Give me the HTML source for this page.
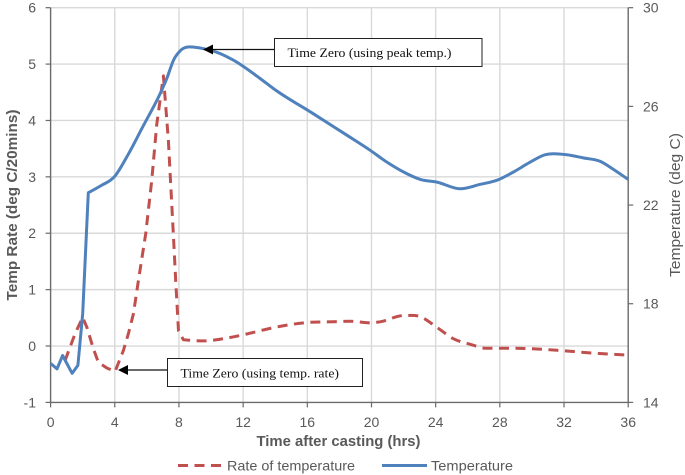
<!DOCTYPE html>
<html>
<head>
<meta charset="utf-8">
<style>
html,body{margin:0;padding:0;background:#fff;}
svg{display:block;}
text{font-family:"Liberation Sans",sans-serif;}
</style>
</head>
<body>
<svg id="chart" xmlns="http://www.w3.org/2000/svg" width="685" height="475" viewBox="0 0 685 475">
  <g id="grid"></g>
  <g id="axes"></g>
  <g id="series"></g>
  <text x="338.5" y="446" text-anchor="middle" font-size="14.5" font-weight="bold" fill="#595959" textLength="164" lengthAdjust="spacingAndGlyphs">Time after casting (hrs)</text>
  <text transform="translate(17,205) rotate(-90)" text-anchor="middle" font-size="14.5" font-weight="bold" fill="#595959" textLength="191" lengthAdjust="spacingAndGlyphs">Temp Rate (deg C/20mins)</text>
  <text transform="translate(680,205) rotate(-90)" text-anchor="middle" font-size="14.5" fill="#595959" textLength="144" lengthAdjust="spacingAndGlyphs">Temperature (deg C)</text>

  <g>
    <rect x="274.5" y="38.5" width="207.5" height="28" fill="#fff" stroke="#222" stroke-width="1"/>
    <text x="287.5" y="57" font-size="13" fill="#111" textLength="164" lengthAdjust="spacingAndGlyphs" style="font-family:'Liberation Serif',serif">Time Zero (using peak temp.)</text>
    <line x1="274" y1="49.5" x2="210" y2="49.5" stroke="#111" stroke-width="1.2"/>
    <polygon points="203,49.5 213,44.5 213,54.5" fill="#000"/>
  </g>
  <g>
    <rect x="167.5" y="358.5" width="195" height="28" fill="#fff" stroke="#222" stroke-width="1"/>
    <text x="180.5" y="377.5" font-size="13" fill="#111" textLength="158.5" lengthAdjust="spacingAndGlyphs" style="font-family:'Liberation Serif',serif">Time Zero (using temp. rate)</text>
    <line x1="167" y1="370" x2="125" y2="370" stroke="#111" stroke-width="1.2"/>
    <polygon points="118,370 128,365 128,375" fill="#000"/>
  </g>

  <g>
    <line x1="178" y1="465.5" x2="223" y2="465.5" stroke="#c0504d" stroke-width="3" stroke-dasharray="10 6.5"/>
    <text x="227" y="470.5" font-size="14" fill="#595959" textLength="128" lengthAdjust="spacingAndGlyphs">Rate of temperature</text>
    <line x1="382" y1="465.5" x2="427" y2="465.5" stroke="#4f81bd" stroke-width="3"/>
    <text x="431" y="470.5" font-size="14" fill="#595959" textLength="82" lengthAdjust="spacingAndGlyphs">Temperature</text>
  </g>
</svg>
<script>
const xTicks = [0, 4, 8, 12, 16, 20, 24, 28, 32, 36];
const leftTicks = [-1, 0, 1, 2, 3, 4, 5, 6];
const rightTicks = [14, 18, 22, 26, 30];

const tempHours = [0, 0.4, 0.75, 1.34, 1.7, 2.0, 2.35, 3.09, 4.02, 4.75, 5.79, 6.83, 7.24, 7.66, 8.07, 8.65, 9.53, 10.57, 11.4, 13.06, 13.89, 16.38, 18.47, 19.92, 20.96, 22, 23.04, 24.08, 25.53, 26.78, 27.92, 28.85, 29.9, 30.83, 31.35, 32.18, 33.2, 34.26, 35.09, 36];
const tempValues = [15.58, 15.36, 15.9, 15.18, 15.5, 17.6, 22.5, 22.77, 23.18, 23.95, 25.23, 26.52, 27.13, 27.87, 28.25, 28.41, 28.34, 28.14, 27.87, 27.13, 26.72, 25.7, 24.83, 24.22, 23.74, 23.34, 23.04, 22.93, 22.66, 22.84, 23.03, 23.34, 23.74, 24.04, 24.08, 24.04, 23.91, 23.77, 23.44, 23.04];

const rateHours = [0.9, 1.53, 2.0, 2.26, 2.67, 2.98, 3.5, 4.02, 4.54, 4.85, 5.16, 5.47, 5.93, 6.3, 6.62, 7.03, 7.34, 7.66, 7.8, 7.97, 8.28, 9.53, 10.77, 12.02, 13.48, 14.93, 16.18, 17.63, 18.67, 19.92, 20.54, 22, 23.04, 24.08, 25.1, 26.15, 27.2, 29, 31.76, 34, 36];
const rateValues = [-0.26, 0.22, 0.51, 0.33, -0.05, -0.29, -0.39, -0.45, -0.08, 0.22, 0.57, 1.16, 1.99, 2.93, 3.94, 4.79, 3.64, 1.93, 1.16, 0.27, 0.11, 0.09, 0.13, 0.2, 0.3, 0.38, 0.42, 0.43, 0.44, 0.41, 0.43, 0.54, 0.52, 0.33, 0.13, 0.03, -0.04, -0.04, -0.08, -0.13, -0.16];

const NS = 'http://www.w3.org/2000/svg';
const L = 50.6, R = 628.2, T = 7.7, B = 402.4;
const xScale = h => L + (h / 36) * (R - L);
const yLeft = v => B - ((v + 1) / 7) * (B - T);
const yRight = v => B - ((v - 14) / 16) * (B - T);

const make = (parent, tag, attrs, txt) => {
  const el = document.createElementNS(NS, tag);
  for (const k in attrs) el.setAttribute(k, attrs[k]);
  if (txt !== undefined) el.textContent = txt;
  parent.appendChild(el);
  return el;
};

// Straight segments before sharpUntil (hours), monotone cubic smoothing after it.
const buildPath = (hours, vals, yFn, sharpUntil) => {
  const px = hours.map(xScale);
  const py = vals.map(yFn);
  const n = px.length;
  const slope = [];
  for (let i = 0; i < n - 1; i++) slope.push((py[i + 1] - py[i]) / (px[i + 1] - px[i]));
  const tan = px.map((_, i) => {
    if (i === 0) return slope[0];
    if (i === n - 1) return slope[n - 2];
    if (hours[i] <= sharpUntil) return slope[i];
    if (slope[i - 1] * slope[i] <= 0) return 0;
    const w0 = px[i] - px[i - 1], w1 = px[i + 1] - px[i];
    return (slope[i - 1] * w1 + slope[i] * w0) / (w0 + w1);
  });
  let d = 'M' + px[0].toFixed(1) + ' ' + py[0].toFixed(1);
  for (let i = 0; i < n - 1; i++) {
    if (hours[i] < sharpUntil) {
      d += ' L' + px[i + 1].toFixed(1) + ' ' + py[i + 1].toFixed(1);
    } else {
      const h = (px[i + 1] - px[i]) / 3;
      d += ' C' + (px[i] + h).toFixed(1) + ' ' + (py[i] + tan[i] * h).toFixed(1) + ' ' + (px[i + 1] - h).toFixed(1) + ' ' + (py[i + 1] - tan[i + 1] * h).toFixed(1) + ' ' + px[i + 1].toFixed(1) + ' ' + py[i + 1].toFixed(1);
    }
  }
  return d;
};

const grid = document.getElementById('grid');
const axes = document.getElementById('axes');
const series = document.getElementById('series');
const GRID = '#d9d9d9', AXIS = '#6a6a6a', LABEL = '#595959';

xTicks.forEach(t => {
  if (t !== 0 && t !== 36) {
    const g = make(grid, 'line', {x1: xScale(t), x2: xScale(t), y1: T, y2: B, stroke: GRID, 'stroke-width': 1.4});
    
    
  }
  const tick = make(axes, 'line', {x1: xScale(t), x2: xScale(t), y1: B, y2: B + 5, stroke: AXIS, 'stroke-width': 1.2});
  
  
  const lab = make(axes, 'text', {x: xScale(t), y: 427, 'text-anchor': 'middle', 'font-size': 14, fill: LABEL}, String(t));
  
  
});

leftTicks.forEach(v => {
  if (v !== -1) {
    const g = make(grid, 'line', {x1: L, x2: R, y1: yLeft(v), y2: yLeft(v), stroke: GRID, 'stroke-width': 1.4});
    
    
  }
  const tick = make(axes, 'line', {x1: L - 5, x2: L, y1: yLeft(v), y2: yLeft(v), stroke: AXIS, 'stroke-width': 1.2});
  
  
  const lab = make(axes, 'text', {x: 36, y: yLeft(v) + 5, 'text-anchor': 'end', 'font-size': 14, fill: LABEL}, String(v));
  
  
});

rightTicks.forEach(v => {
  const tick = make(axes, 'line', {x1: R, x2: R + 5, y1: yRight(v), y2: yRight(v), stroke: AXIS, 'stroke-width': 1.2});
  
  
  const lab = make(axes, 'text', {x: 643, y: yRight(v) + 5, 'font-size': 14, fill: LABEL}, String(v));
  
  
});

const leftAxis = make(axes, 'line', {x1: L, x2: L, y1: T, y2: B, stroke: AXIS, 'stroke-width': 1.4});


const rightAxis = make(axes, 'line', {x1: R, x2: R, y1: T, y2: B, stroke: AXIS, 'stroke-width': 1.4});


const bottomAxis = make(axes, 'line', {x1: L, x2: R, y1: B, y2: B, stroke: AXIS, 'stroke-width': 1.4});



const rateLine = make(series, 'path', {d: buildPath(rateHours, rateValues, yLeft, 8.28), fill: 'none', stroke: '#c0504d', 'stroke-width': 3, 'stroke-dasharray': '10 6.5', 'stroke-linejoin': 'round'});



const tempLine = make(series, 'path', {d: buildPath(tempHours, tempValues, yRight, 2.35), fill: 'none', stroke: '#4f81bd', 'stroke-width': 3, 'stroke-linejoin': 'round'});


</script>
</body>
</html>
